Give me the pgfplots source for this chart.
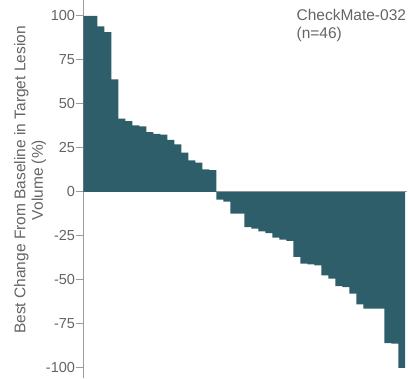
\documentclass[border=0pt]{standalone}
\usepackage{pgfplots}
\pgfplotsset{compat=1.18}
\usepackage{fontspec}
\setmainfont{Liberation Sans}
\definecolor{barteal}{RGB}{46,94,106}
\definecolor{axisgray}{RGB}{155,155,155}
\definecolor{textgray}{RGB}{100,100,100}

\begin{document}
\begin{tikzpicture}
\begin{axis}[
  scale only axis,
  width=324pt, height=378pt,
  xmin=0.46, xmax=46.75,
  ymin=-106, ymax=108.8,
  axis x line*=middle,
  axis y line*=left,
  xtick=\empty,
  ytick={-100,-75,-50,-25,0,25,50,75,100},
  yticklabels={-100,-75,-50,-25,0,25,50,75,100},
  tick pos=left,
  tick align=outside,
  major tick length=7pt,
  tick style={axisgray, line width=0.8pt},
  axis line style={axisgray, line width=0.8pt},
  yticklabel style={font=\fontsize{14.5}{16}\selectfont, text=textgray, xshift=2.5pt},
  ylabel={Best Change From Baseline in Target Lesion\\Volume (\%)},
  ylabel style={at={([xshift=-53pt]axis description cs:0,0.525)}, anchor=center,
    align=center, font=\fontsize{15.5}{17.5}\selectfont, text=textgray},
  clip=false,
]
\addplot[ybar, bar width=1, fill=barteal, draw=none] coordinates {
  (1,100) (2,100) (3,94.0) (4,90.8) (5,63.9) (6,41.6) (7,40.2) (8,37.8)
  (9,37.2) (10,34.0) (11,33.0) (12,32.5) (13,29.6) (14,27.0) (15,22.3)
  (16,17.9) (17,16.6) (18,12.8) (19,12.4)
  (20,-4.4) (21,-5.6) (22,-12.4) (23,-12.4) (24,-20.0) (25,-20.9)
  (26,-22.4) (27,-23.4) (28,-26.0) (29,-27.2) (30,-27.9) (31,-37.0)
  (32,-40.8) (33,-41.2) (34,-41.8) (35,-47.4) (36,-49.3) (37,-53.5)
  (38,-54.1) (39,-57.9) (40,-63.9) (41,-66.4) (42,-66.4) (43,-66.4)
  (44,-85.9) (45,-86.3) (46,-100)
};
\node[anchor=base west, inner sep=0pt, text=textgray, font=\fontsize{15.5}{17.5}\selectfont]
  at (axis cs:30.95,97.4) {CheckMate-032};
\node[anchor=base west, inner sep=0pt, text=textgray, font=\fontsize{15.5}{17.5}\selectfont]
  at (axis cs:30.95,87.2) {(n=46)};
\end{axis}
% margin to the left of the axis, reserved for labels
\path ([xshift=-83pt]current axis.south west) ([xshift=1pt]current axis.north east);
\end{tikzpicture}
\end{document}
